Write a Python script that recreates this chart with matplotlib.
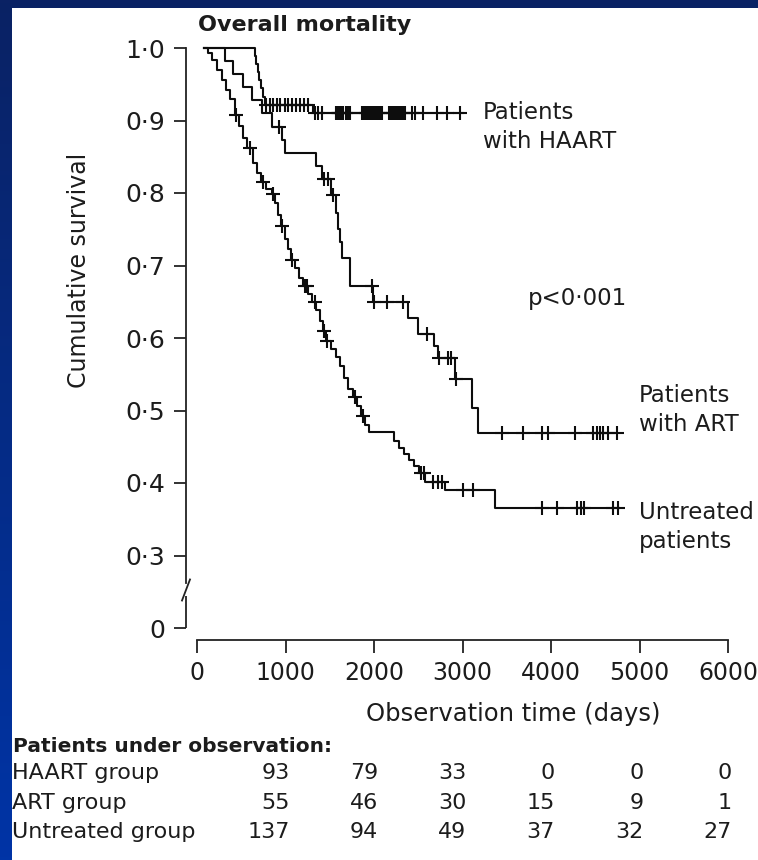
import numpy as np
import matplotlib
matplotlib.use("Agg")
import matplotlib.pyplot as plt
import matplotlib.transforms as mtransforms
from matplotlib.colors import LinearSegmentedColormap
from matplotlib.patches import Rectangle

# ---------------- data ----------------
haart_t = [80, 650, 668, 686, 704, 722, 745, 768, 1312, 3000]
haart_s = [1.0, 0.989, 0.978, 0.967, 0.956, 0.945, 0.933, 0.921, 0.910, 0.910]
haart_c = [780, 820, 860, 900, 940, 990, 1030, 1075, 1120, 1165, 1210, 1255,
           1335, 1370, 1415, 1570, 1590, 1605, 1630, 1650, 1685, 1710, 1730,
           1865, 1890, 1910, 1935, 1955, 1980, 2000, 2025, 2045, 2070, 2090,
           2170, 2195, 2215, 2240, 2260, 2285, 2305, 2330, 2350, 2430, 2465,
           2555, 2715, 2830, 2975]

art_t = [80, 317, 410, 520, 622, 735, 848, 960, 995, 1346, 1414, 1516, 1572,
         1595, 1617, 1640, 1730, 1985, 2386, 2500, 2680, 2720, 2910, 3110,
         3178, 4750]
art_s = [1.0, 0.982, 0.964, 0.946, 0.928, 0.910, 0.891, 0.873, 0.855, 0.837,
         0.819, 0.797, 0.773, 0.751, 0.732, 0.711, 0.672, 0.649, 0.628, 0.606,
         0.589, 0.573, 0.544, 0.503, 0.469, 0.469]
art_c = [930, 1440, 1482, 1540, 1980, 1995, 2150, 2330, 2601, 2740, 2840,
         2870, 2930, 3450, 3687, 3902, 3970, 4275, 4479, 4524, 4558, 4592,
         4648, 4750]

unt_t = [80, 124, 170, 226, 283, 328, 373, 430, 475, 520, 566, 633, 679, 724,
         780, 848, 882, 916, 950, 995, 1029, 1063, 1108, 1154, 1199, 1255,
         1301, 1346, 1391, 1425, 1459, 1516, 1572, 1617, 1663, 1708, 1764,
         1810, 1855, 1900, 1945, 2228, 2285, 2341, 2398, 2454, 2511, 2579,
         2800, 3370, 4770]
unt_s = [1.0, 0.993, 0.983, 0.970, 0.956, 0.942, 0.929, 0.907, 0.893, 0.876,
         0.862, 0.841, 0.827, 0.815, 0.806, 0.799, 0.786, 0.769, 0.754, 0.737,
         0.723, 0.707, 0.696, 0.683, 0.672, 0.661, 0.649, 0.638, 0.624, 0.610,
         0.596, 0.585, 0.574, 0.562, 0.545, 0.530, 0.519, 0.506, 0.492, 0.480,
         0.470, 0.458, 0.448, 0.440, 0.432, 0.423, 0.414, 0.402, 0.391, 0.365,
         0.365]
unt_c = [440, 600, 746, 860, 960, 1075, 1221, 1240, 1335, 1430, 1470, 1787,
         1877, 2530, 2560, 2670, 2720, 2770, 3008, 3122, 3902, 4072, 4298,
         4343, 4377, 4705, 4760]

x_ticks = [0, 1000, 2000, 3000, 4000, 5000, 6000]
y_ticks = [0, 0.3, 0.4, 0.5, 0.6, 0.7, 0.8, 0.9, 1.0]
y_ticklabels = ["0", "0·3", "0·4", "0·5", "0·6", "0·7", "0·8", "0·9", "1·0"]

risk_times = [1000, 2000, 3000, 4000, 5000, 6000]
risk_groups = ["HAART group", "ART group", "Untreated group"]
haart_risk = [93, 79, 33, 0, 0, 0]
art_risk = [55, 46, 30, 15, 9, 1]
unt_risk = [137, 94, 49, 37, 32, 27]

# ---------------- figure ----------------
W, H = 758, 860
fig = plt.figure(figsize=(W / 100, H / 100), dpi=100)


def fx(px):
    return px / W


def fy(py):
    return 1 - py / H


# background gradient + white panel
bg = fig.add_axes([0, 0, 1, 1], zorder=-10)
cmap = LinearSegmentedColormap.from_list("bg", ["#0a2264", "#0034a6"])
bg.imshow(np.linspace(0, 1, 256).reshape(-1, 1), extent=[0, 1, 0, 1],
          aspect="auto", cmap=cmap, origin="upper")
bg.add_patch(Rectangle((fx(12), 0), 1 - fx(12), fy(8), transform=bg.transAxes,
                       facecolor="white", edgecolor="none"))
bg.set_axis_off()

ink = "#1c1c1c"
line_c = "#0d0d0d"


def fwd(y):
    y = np.asarray(y, dtype=float)
    return np.where(y >= 0.3, y, 0.2 + y / 3.0)


def inv(t):
    t = np.asarray(t, dtype=float)
    return np.where(t >= 0.3, t, (t - 0.2) * 3.0)


ax = fig.add_axes([fx(197), fy(628), (728 - 197) / W, (628 - 48) / H])
ax.set_facecolor("none")
ax.set_yscale("function", functions=(fwd, inv))
ax.set_xlim(0, 6000)
ax.set_ylim(0, 1.0)


def surv_at(ts, ss, c):
    idx = np.searchsorted(np.asarray(ts), np.asarray(c), side="right") - 1
    return np.asarray(ss)[idx]


for ts, ss, cs in [(haart_t, haart_s, haart_c), (art_t, art_s, art_c),
                   (unt_t, unt_s, unt_c)]:
    ax.step(ts, ss, where="post", color=line_c, lw=1.5, zorder=3, clip_on=False)
    ax.plot(cs, surv_at(ts, ss, cs), ls="none", marker="+", ms=10, mew=1.5,
            color=line_c, zorder=4, clip_on=False)

# axes styling
for s in ["top", "right"]:
    ax.spines[s].set_visible(False)
spine_lw = 1.3
ax.spines["left"].set_position(("outward", 11 * 0.72))
ax.spines["bottom"].set_position(("outward", 12 * 0.72))
ax.spines["left"].set_linewidth(spine_lw)
ax.spines["bottom"].set_linewidth(spine_lw)
ax.spines["left"].set_color("#222222")
ax.spines["bottom"].set_color("#222222")


def real_at_px(py):
    T = 1 - (py - 48) / 723.0
    return float(inv(T))


ax.spines["left"].set_bounds(real_at_px(582), 1.0)
sx = -11 / 531.0
ytr = ax.get_yaxis_transform()
ax.plot([sx, sx], [0, real_at_px(594)], transform=ytr, color="#222222",
        lw=spine_lw, clip_on=False, solid_capstyle="butt")
ax.plot([sx - 4 / 531.0, sx + 4 / 531.0], [real_at_px(599), real_at_px(578)],
        transform=ytr, color="#222222", lw=spine_lw, clip_on=False)

ax.set_xticks(x_ticks)
ax.set_xticklabels([str(v) for v in x_ticks])
ax.set_yticks(y_ticks)
ax.set_yticklabels(y_ticklabels)
ax.minorticks_off()
ax.tick_params(axis="y", direction="out", length=9, width=spine_lw, pad=6,
               labelsize=18, colors="#222222", labelcolor=ink)
ax.tick_params(axis="x", direction="out", length=9, width=spine_lw, pad=6,
               labelsize=17, colors="#222222", labelcolor=ink)

# labels
fig.text(fx(198), fy(25), "Overall mortality", fontsize=16, fontweight="bold",
         ha="left", va="center", color=ink)
fig.text(fx(79), fy(270), "Cumulative survival", fontsize=17, rotation=90,
         ha="center", va="center", color=ink)
fig.text(fx(513), fy(714), "Observation time (days)", fontsize=17.5,
         ha="center", va="center", color=ink)

fig.text(fx(483), fy(127), "Patients\nwith HAART", fontsize=16.5, ha="left",
         va="center", linespacing=1.35, color=ink)
fig.text(fx(639), fy(410), "Patients\nwith ART", fontsize=16.5, ha="left",
         va="center", linespacing=1.35, color=ink)
fig.text(fx(639), fy(527), "Untreated\npatients", fontsize=16.5, ha="left",
         va="center", linespacing=1.35, color=ink)
fig.text(fx(528), fy(298), "p<0·001", fontsize=16.5, ha="left", va="center",
         color=ink)

# patients at risk table
fig.text(fx(13), fy(747), "Patients under observation:", fontsize=14.5,
         fontweight="bold", ha="left", va="center", color=ink)
tr = mtransforms.blended_transform_factory(ax.transData, fig.transFigure) + \
    mtransforms.ScaledTranslation(4 / 100, 0, fig.dpi_scale_trans)
for row_y, name, vals in zip([773, 803, 832], risk_groups,
                             [haart_risk, art_risk, unt_risk]):
    fig.text(fx(12), fy(row_y), name, fontsize=16, ha="left", va="center",
             color=ink)
    for t, v in zip(risk_times, vals):
        ax.text(t, fy(row_y), str(v), transform=tr, fontsize=16, ha="right",
                va="center", color=ink, clip_on=False)

fig.savefig("out.png", dpi=100)
